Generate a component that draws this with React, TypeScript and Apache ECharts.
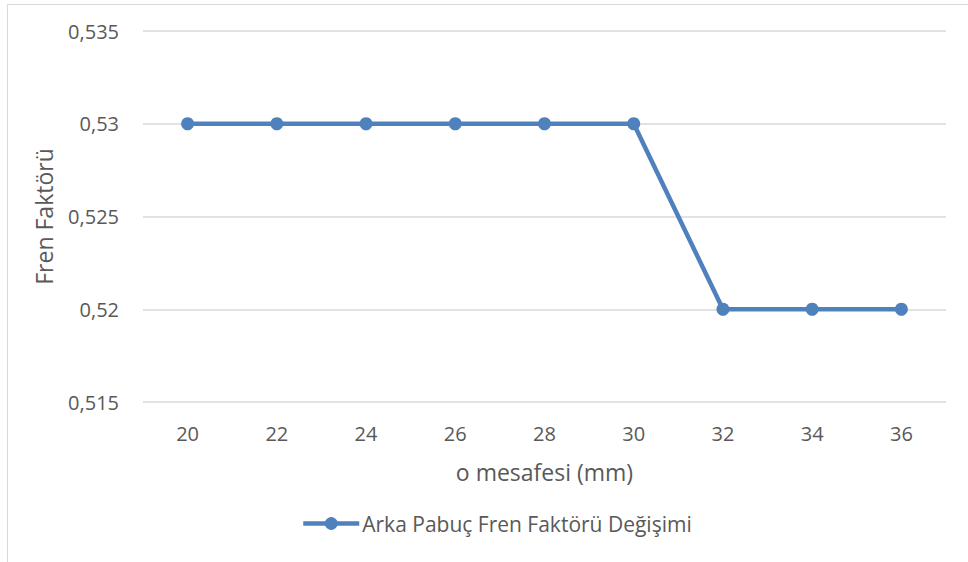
import React, { useEffect, useRef } from "react";
import * as echarts from "echarts";

const distances = ["20", "22", "24", "26", "28", "30", "32", "34", "36"];
const brakeFactor = [0.53, 0.53, 0.53, 0.53, 0.53, 0.53, 0.52, 0.52, 0.52];
const seriesName = "Arka Pabuç Fren Faktörü Değişimi";
const xTitle = "o mesafesi (mm)";
const yTitle = "Fren Faktörü";

const FONT = "'Open Sans', 'Liberation Sans', sans-serif";
const TEXT = "#595959";
const BLUE = "#4f81bd";

export default function App() {
  const ref = useRef<HTMLDivElement>(null);

  useEffect(() => {
    if (!ref.current) return;
    const chart = echarts.init(ref.current, undefined, { renderer: "svg" });
    chart.setOption({
      animation: false,
      backgroundColor: "#ffffff",
      textStyle: { fontFamily: FONT },
      grid: { left: 143, right: 22, top: 31, bottom: 160 },
      graphic: [
        { type: "line", shape: { x1: 7.5, y1: 4.5, x2: 968, y2: 4.5 }, style: { stroke: "#d9d9d9", lineWidth: 1 } },
        { type: "line", shape: { x1: 7.5, y1: 4.5, x2: 7.5, y2: 562 }, style: { stroke: "#d9d9d9", lineWidth: 1 } },
      ],
      legend: {
        data: [seriesName],
        top: 508,
        left: 296,
        itemWidth: 56,
        itemHeight: 16,
        itemGap: 4,
        lineStyle: { width: 4.5 },
        textStyle: { color: TEXT, fontSize: 21, fontFamily: FONT, padding: [0, 0, 0, -2] },
      },
      xAxis: {
        type: "category",
        data: distances,
        boundaryGap: true,
        name: xTitle,
        nameLocation: "middle",
        nameGap: 58,
        nameTextStyle: { color: TEXT, fontSize: 23, fontFamily: FONT },
        axisLine: { show: false },
        axisTick: { show: false },
        axisLabel: { color: TEXT, fontSize: 20, margin: 21, fontFamily: FONT },
      },
      yAxis: {
        type: "value",
        min: 0.515,
        max: 0.535,
        interval: 0.005,
        name: yTitle,
        nameLocation: "middle",
        nameGap: 88,
        nameTextStyle: { color: TEXT, fontSize: 23, fontFamily: FONT },
        axisLine: { show: false },
        axisTick: { show: false },
        axisLabel: {
          color: TEXT,
          fontSize: 20,
          margin: 24,
          fontFamily: FONT,
          formatter: (v: number) => String(parseFloat(v.toFixed(3))).replace(".", ","),
        },
        splitLine: { lineStyle: { color: "#d9d9d9", width: 1.5 } },
      },
      series: [
        {
          name: seriesName,
          type: "line",
          data: brakeFactor,
          symbol: "circle",
          symbolSize: 13,
          lineStyle: { color: BLUE, width: 4.5 },
          itemStyle: { color: BLUE },
        },
      ],
    });
    return () => chart.dispose();
  }, []);

  return (
    <div
      ref={ref}
      style={{ position: "fixed", left: 0, top: 0, width: 968, height: 562 }}
    />
  );
}
